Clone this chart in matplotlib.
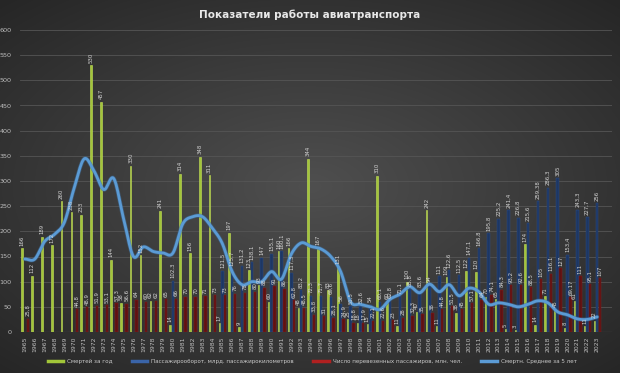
import numpy as np
import matplotlib
matplotlib.use("Agg")
import matplotlib.pyplot as plt
from matplotlib.lines import Line2D

years = list(range(1965, 2024))

deaths = [166, 112, 189, 172, 260, 238, 233, 530, 457, 144,
          58, 330, 152, 62, 241, 14, 314, 156, 348, 311,
          17, 197, 9, 123, 93, 60, 160, 166, 48, 344,
          167, 83, 131, 25, 18, 15, 310, 60, 11, 100,
          40, 242, 11, 109, 38, 122, 120, 70, 65, 5,
          3, 174, 14, 71, 45, 8, 61, 11, 22]

turnover = [None]*15 + [102.3, None, None, None, None,
            121.5, 125.7, 131.2, 138.1, 147, 155.1, 160.1, 117.3, 83.2, 72.3,
            71.7, 69.6, 56.0, 51.5, 52.6, 54.0, 60.1, 62.8, 71.1, 85.8,
            83.6, 94.0, 111.0, 122.6, 112.5, 147.1, 166.8, 195.8, 225.2, 241.4,
            226.8, 215.6, 259.38, 286.3, 305, 153.4, 243.3, 227.7, 256]

passengers = [25.8, None, None, None, None, 44.8, 48.9, 51.9, 53.1, 57.3,
              56.6, 64, 60, 62, 65, 66, 70, 70, 71, 73,
              73, 76, 78, 80, 88, 91, 86, 62.8, 48.5, 33.8,
              31.0, 28.1, 24.9, 18.8, 17.9, 22.1, 22.6, 23.0, 28.0, 32.3,
              35.0, 38.0, 44.8, 51.5, 45.0, 57.1, 64.0, 74.1, 84.3, 93.2,
              92.6, 88.5, 105, 116.1, 127, 69.17, 111, 95.1, 107]

avg5 = [145, 145, 180, 194, 218, 287, 344, 320, 283, 305,
        225, 150, 169, 160, 157, 157, 215, 229, 229, 206,
        176, 120, 94, 100, 100, 120, 105, 155, 177, 170,
        165, 150, 120, 60, 55, 50, 45, 65, 75, 90,
        78, 95, 80, 94, 72, 87, 80, 55, 58, 55,
        50, 55, 62, 58, 40, 34, 26, 25, 30]

title = "Показатели работы авиатранспорта"
legend_labels = ["Смертей за год",
                 "Пассажирооборот, млрд. пассажирокилометров",
                 "Число перевезенных пассажиров, млн. чел.",
                 "Смертн. Среднее за 5 лет"]

C_G = "#a2c639"
C_B = "#1d3763"
C_R = "#5e1212"
C_L = "#5b9bd5"
TXT = "#d4d4d4"

def fmt(v):
    return ("%g" % v).replace(".", ",")

def catmull(xs, ys, n=12):
    xs = np.asarray(xs, float); ys = np.asarray(ys, float)
    px = np.concatenate([[2*xs[0]-xs[1]], xs, [2*xs[-1]-xs[-2]]])
    py = np.concatenate([[2*ys[0]-ys[1]], ys, [2*ys[-1]-ys[-2]]])
    ox, oy = [], []
    t = np.linspace(0, 1, n, endpoint=False)
    for i in range(1, len(px)-2):
        for arr, a in ((oy, py), (ox, px)):
            a0, a1, a2, a3 = a[i-1], a[i], a[i+1], a[i+2]
            arr.extend(0.5*((2*a1) + (-a0+a2)*t + (2*a0-5*a1+4*a2-a3)*t**2 + (-a0+3*a1-3*a2+a3)*t**3))
    ox.append(xs[-1]); oy.append(ys[-1])
    return np.array(ox), np.array(oy)

fig = plt.figure(figsize=(6.2, 3.73), dpi=100)
bg = fig.add_axes([0, 0, 1, 1], zorder=-10)
yy, xx = np.mgrid[-1:1:373j, -1:1:620j]
r = np.sqrt((xx*0.85)**2 + (yy*0.9)**2)
vals = np.clip(0.31 - 0.13*r, 0.15, 0.31)
bg.imshow(np.dstack([vals, vals, vals]), aspect="auto", extent=[0, 1, 0, 1])
bg.axis("off")

ax = fig.add_axes([20/620, 1-332/373, 592/620, 302/373])
ax.set_facecolor("none")
ax.set_xlim(1964.5, 2024.5)
ax.set_ylim(0, 600)
ax.set_yticks(range(0, 601, 50))
ax.tick_params(axis="y", labelsize=4.6, colors="#bdbdbd", length=0, pad=6)
ax.set_xticks(years)
ax.set_xticklabels([str(y) for y in years], rotation=90, fontsize=4.4, color="#bdbdbd")
ax.tick_params(axis="x", length=0, pad=3)
for s in ax.spines.values():
    s.set_visible(False)
ax.grid(axis="y", color="#555555", lw=0.6)
ax.set_axisbelow(True)
ax.axhline(0, color="#6a6a6a", lw=0.8)

off = 0.29
fs = 3.9
for i, y in enumerate(years):
    g = deaths[i]
    if g is not None:
        ax.bar(y - off, g, width=0.17, color=C_G, edgecolor="#c6e25a", lw=0.4, zorder=3)
        ax.text(y - off, g + 5, fmt(g), rotation=90, ha="center", va="bottom", fontsize=fs, color=TXT, zorder=6)
    b = turnover[i]
    if b is not None:
        ax.bar(y, b, width=0.26, color=C_B, edgecolor="#2d4f8c", lw=0.3, zorder=3)
        ax.text(y, b + 5, fmt(b), rotation=90, ha="center", va="bottom", fontsize=fs, color=TXT, zorder=6)
    p = passengers[i]
    if p is not None:
        ax.bar(y + off, p, width=0.24, color=C_R, edgecolor="#8e1c1c", lw=0.3, zorder=3)
        ax.text(y + off, p + 5, fmt(p), rotation=90, ha="center", va="bottom", fontsize=fs, color=TXT, zorder=6)

sx, sy = catmull(years, avg5)
ax.plot(sx, sy, color="#3f6f9f", lw=3.0, alpha=0.55, zorder=4, solid_capstyle="round")
ax.plot(sx, sy, color=C_L, lw=2.0, zorder=5, solid_capstyle="round")

fig.text(0.5, 1-15/373, title, ha="center", va="center", fontsize=7.5, fontweight="bold", color="#e8e8e8")

handles = [Line2D([], [], color=C_G, lw=2.5),
           Line2D([], [], color="#3a64a8", lw=2.5),
           Line2D([], [], color="#b02020", lw=2.5),
           Line2D([], [], color=C_L, lw=2.5)]
fig.legend(handles, legend_labels, loc="center", bbox_to_anchor=(312/620, 1-361/373), ncol=4,
           frameon=False, fontsize=4.05, labelcolor="#c8c8c8", handlelength=2.7, columnspacing=3.5,
           handletextpad=0.7)

fig.savefig("out.png", dpi=100)
